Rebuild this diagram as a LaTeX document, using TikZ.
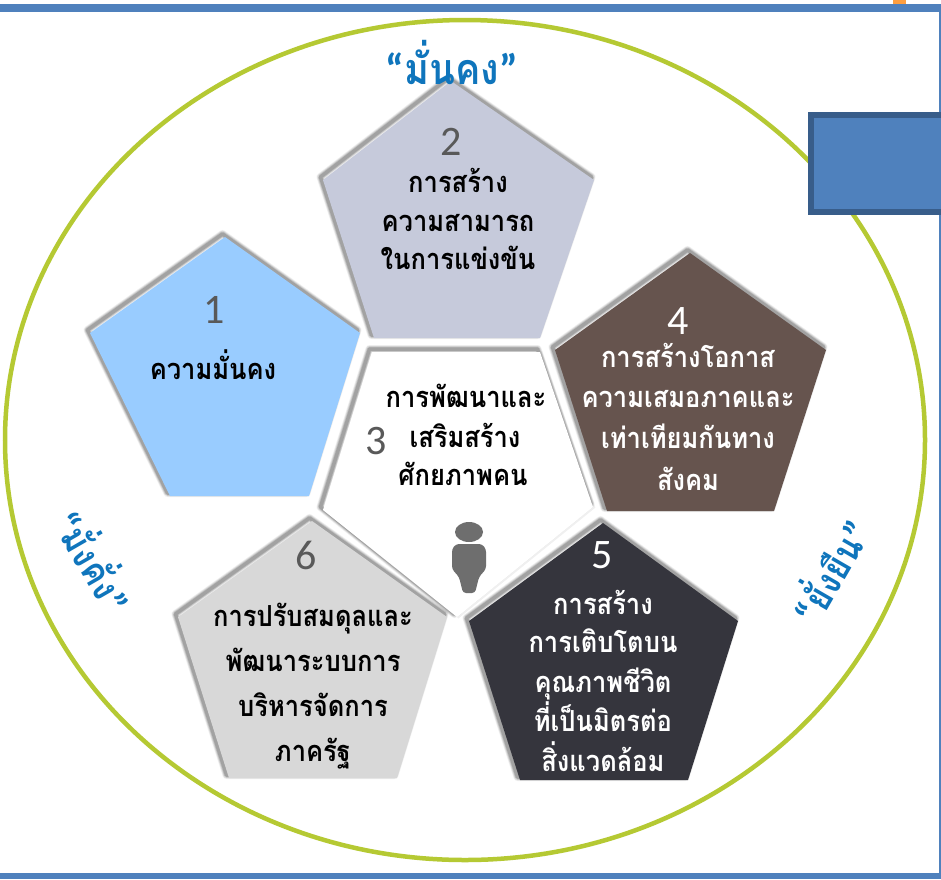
\documentclass[tikz,border=0pt]{standalone}
\usepackage{fontspec}
\newfontfamily\thaifont[Script=Thai,FakeStretch=0.88]{Loma}
\newfontfamily\numfont{Carlito}
\definecolor{barblue}{HTML}{4F81BD}
\definecolor{darkblue}{HTML}{385D8A}
\definecolor{ringgreen}{HTML}{B5C933}
\definecolor{quoteblue}{HTML}{0F75BC}
\definecolor{lightblue}{HTML}{99CCFF}
\definecolor{slate}{HTML}{C6CADB}
\definecolor{brownish}{HTML}{66544E}
\definecolor{darkslate}{HTML}{35353D}
\definecolor{lightgrey}{HTML}{D8D8D8}
\definecolor{numgrey}{HTML}{595959}
\definecolor{persongrey}{HTML}{6E6E6E}
\tikzset{
  px/.style={x=1pt,y=-1pt},
  numlabel/.style={font=\numfont\fontsize{42}{42}\selectfont,text=numgrey,inner sep=0pt},
  blk/.style={font=\thaifont\bfseries\fontsize{29}{29}\selectfont,text=black,inner sep=0pt,text height=22pt,text depth=4pt},
  wht/.style={blk,text=white},
  quot/.style={font=\thaifont\bfseries\fontsize{43}{43}\selectfont,text=quoteblue,inner sep=0pt},
  quotside/.style={font=\thaifont\bfseries\fontsize{38}{38}\selectfont,text=quoteblue,inner sep=0pt},
  softa/.style={draw=black,draw opacity=0.06,line join=round,line width=8pt},
  softb/.style={draw=black,draw opacity=0.09,line join=round,line width=6.5pt},
  softc/.style={draw=black,draw opacity=0.12,line join=round,line width=5pt},
  softd/.style={draw=black,draw opacity=0.15,line join=round,line width=3.5pt},
}
\newcommand{\softpoly}[2]{%
  \path[softa,shift={(-2.5,-3)}] #1;
  \path[softb,shift={(-2.5,-3)}] #1;
  \path[softc,shift={(-2.5,-3)}] #1;
  \path[softd,shift={(-2.5,-3)}] #1;
  \fill[#2] #1;
}
\begin{document}
\begin{tikzpicture}[px]
\useasboundingbox (0,0) rectangle (941,879);
\fill[white] (0,0) rectangle (941,879);
% frame
\fill[orange!75!white] (893,0) rectangle (906,5);
\fill[barblue] (0,4) rectangle (941,12);
\fill[barblue] (0,873) rectangle (941,879);
\fill[barblue] (939,12) rectangle (941,873);
% ring
\draw[ringgreen,line width=4.5pt] (465,440) ellipse [x radius=460,y radius=420];
% box
\draw[darkblue,fill=barblue,line width=5.5pt] (811,115) rectangle (946,212);
% centre pentagon
\path[draw=black,draw opacity=0.06,line width=4pt] (540,352) -- (593,507) -- (457,617);
\softpoly{(372,352) -- (540,352) -- (593,507) -- (457,617) -- (323,510) -- cycle}{white}
% pentagons
\softpoly{(451,81) -- (594,180) -- (540,338) -- (374,338) -- (323,180) -- cycle}{slate}
\softpoly{(225,237) -- (360,333) -- (309,496) -- (170,496) -- (90,333) -- cycle}{lightblue}
\softpoly{(690,253) -- (826,350) -- (774,511) -- (607,511) -- (555,350) -- cycle}{brownish}
\softpoly{(312,521) -- (447,617) -- (397,778) -- (229,778) -- (178,617) -- cycle}{lightgrey}
\softpoly{(603,523) -- (738,621) -- (688,780) -- (520,780) -- (469,621) -- cycle}{darkslate}
% person
\fill[persongrey] (469,532) ellipse [x radius=14,y radius=10];
\fill[persongrey,rounded corners=3pt] (456,544) -- (482,544) -- (486,549) -- (486,569) -- (479,577) -- (475,593) -- (463,593) -- (459,577) -- (452,569) -- (452,549) -- cycle;
% headings
\node[quot] (qtop) at (452,62) {{\numfont “}มั่นคง{\numfont ”}};
\node[quotside,rotate=-60] (qleft) at (96,560) {{\numfont “}มั่งคั่ง{\numfont ”}};
\node[quotside,rotate=60] (qright) at (828,570) {{\numfont “}ยั่งยืน{\numfont ”}};
% numbers
\node[numlabel] (n1) at (214,310) {1};
\node[numlabel] (n2) at (451,142) {2};
\node[numlabel] (n3) at (376,441) {3};
\node[numlabel,text=white] (n4) at (678,321) {4};
\node[numlabel,text=white] (n5) at (602,555) {5};
\node[numlabel] (n6) at (306,555) {6};
% texts
\node[blk] (a1) at (213,370) {ความมั่นคง};
\node[blk] (b1) at (458,183) {การสร้าง};
\node[blk] (b2) at (458,222) {ความสามารถ};
\node[blk] (b3) at (458,260) {ในการแข่งขัน};
\node[blk] (c1) at (466,398) {การพัฒนาและ};
\node[blk] (c2) at (465,438) {เสริมสร้าง};
\node[blk] (c3) at (463,476) {ศักยภาพคน};
\node[wht] (d1) at (688,358) {การสร้างโอกาส};
\node[wht] (d2) at (688,398) {ความเสมอภาคและ};
\node[wht] (d3) at (688,439) {เท่าเทียมกันทาง};
\node[wht] (d4) at (688,481) {สังคม};
\node[wht] (e1) at (603,605) {การสร้าง};
\node[wht] (e2) at (603,643) {การเติบโตบน};
\node[wht] (e3) at (603,683) {คุณภาพชีวิต};
\node[wht] (e4) at (603,722) {ที่เป็นมิตรต่อ};
\node[wht] (e5) at (603,762) {สิ่งแวดล้อม};
\node[blk] (f1) at (313,617) {การปรับสมดุลและ};
\node[blk] (f2) at (313,662) {พัฒนาระบบการ};
\node[blk] (f3) at (313,707) {บริหารจัดการ};
\node[blk] (f4) at (313,752) {ภาครัฐ};
\end{tikzpicture}
\end{document}
